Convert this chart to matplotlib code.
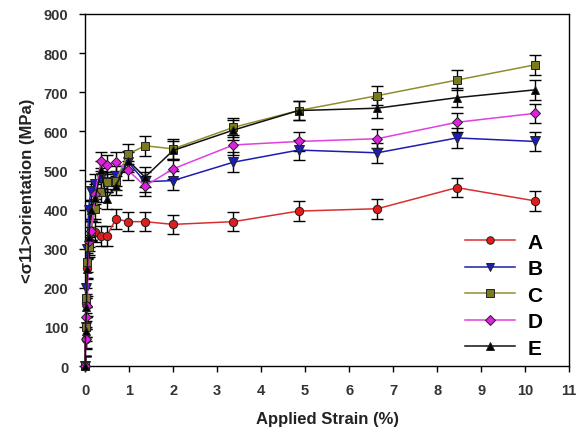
import matplotlib
matplotlib.use("Agg")
import matplotlib.pyplot as plt

plt.rcParams['font.family'] = ['Liberation Sans', 'DejaVu Sans']

# Applied strain (%) for each loading step
strain = [0, 0.01, 0.03, 0.05, 0.08, 0.13, 0.23, 0.36, 0.49, 0.70, 0.98, 1.36, 2.0, 3.37, 4.85, 6.64, 8.45, 10.23]

# <sigma_11> orientation stress (MPa) per grain family
A = [0, 70, 160, 250, 310, 345, 342, 333, 332, 376, 369, 369, 362, 369, 396, 402, 456, 422]
B = [0, 100, 200, 300, 400, 448, 465, 480, 470, 485, 521, 471, 474, 521, 552, 545, 583, 574]
C = [0, 100, 175, 265, 304, 346, 401, 445, 470, 474, 542, 563, 555, 610, 653, 691, 731, 770]
D = [0, 69, 125, 154, 320, 346, 440, 523, 515, 521, 500, 460, 504, 565, 574, 581, 623, 646]
E = [0, 90, 150, 248, 330, 400, 430, 500, 427, 461, 525, 483, 551, 603, 653, 659, 686, 706]
err = 25

series_names = ['A', 'B', 'C', 'D', 'E']
series_vals = [A, B, C, D, E]
line_colors = ['#d83030', '#1c1cb0', '#8e8e2e', '#e040e0', '#111111']
face_colors = ['#e01c1c', '#1c1cb8', '#7a7a1e', '#e020e0', '#000000']
markers = ['o', 'v', 's', 'D', '^']
msizes = [6, 6.5, 6, 5.5, 6]

fig = plt.figure(figsize=(5.79, 4.39), dpi=100)
ax = fig.add_axes([0.147, 0.164, 0.836, 0.802])

for name, vals, lc, fc, m, ms in zip(series_names, series_vals, line_colors,
                                     face_colors, markers, msizes):
    ax.errorbar(strain, vals, yerr=err, fmt='none', ecolor='black',
                elinewidth=1.0, capsize=4, capthick=1.0, zorder=2)
    ax.plot(strain, vals, color=lc, lw=1.1, marker=m, markersize=ms,
            markerfacecolor=fc, markeredgecolor='#222222', markeredgewidth=0.7,
            label=name, zorder=3, clip_on=False)

ax.set_xlim(0, 11)
ax.set_ylim(0, 900)
ax.set_xticks(range(0, 12))
ax.set_yticks(range(0, 901, 100))
ax.tick_params(direction='out', length=4, width=1, labelsize=10.5,
               labelcolor='#333333', top=False, right=False, pad=8)
for lbl in ax.get_xticklabels() + ax.get_yticklabels():
    lbl.set_fontweight('bold')
for sp in ax.spines.values():
    sp.set_linewidth(1.0)

ax.set_xlabel('Applied Strain (%)', fontsize=12, fontweight='bold',
              color='#222222', labelpad=10)
ax.set_ylabel('<σ11>orientation (MPa)', fontsize=12, fontweight='bold',
              color='#222222', labelpad=6)

leg = ax.legend(loc='lower right', bbox_to_anchor=(0.962, 0.0), frameon=False,
                prop={'weight': 'bold', 'size': 15}, handlelength=2.4,
                handletextpad=0.6, labelspacing=0.36, borderaxespad=0.0,
                markerscale=0.9)

fig.savefig('out.png', dpi=100)
